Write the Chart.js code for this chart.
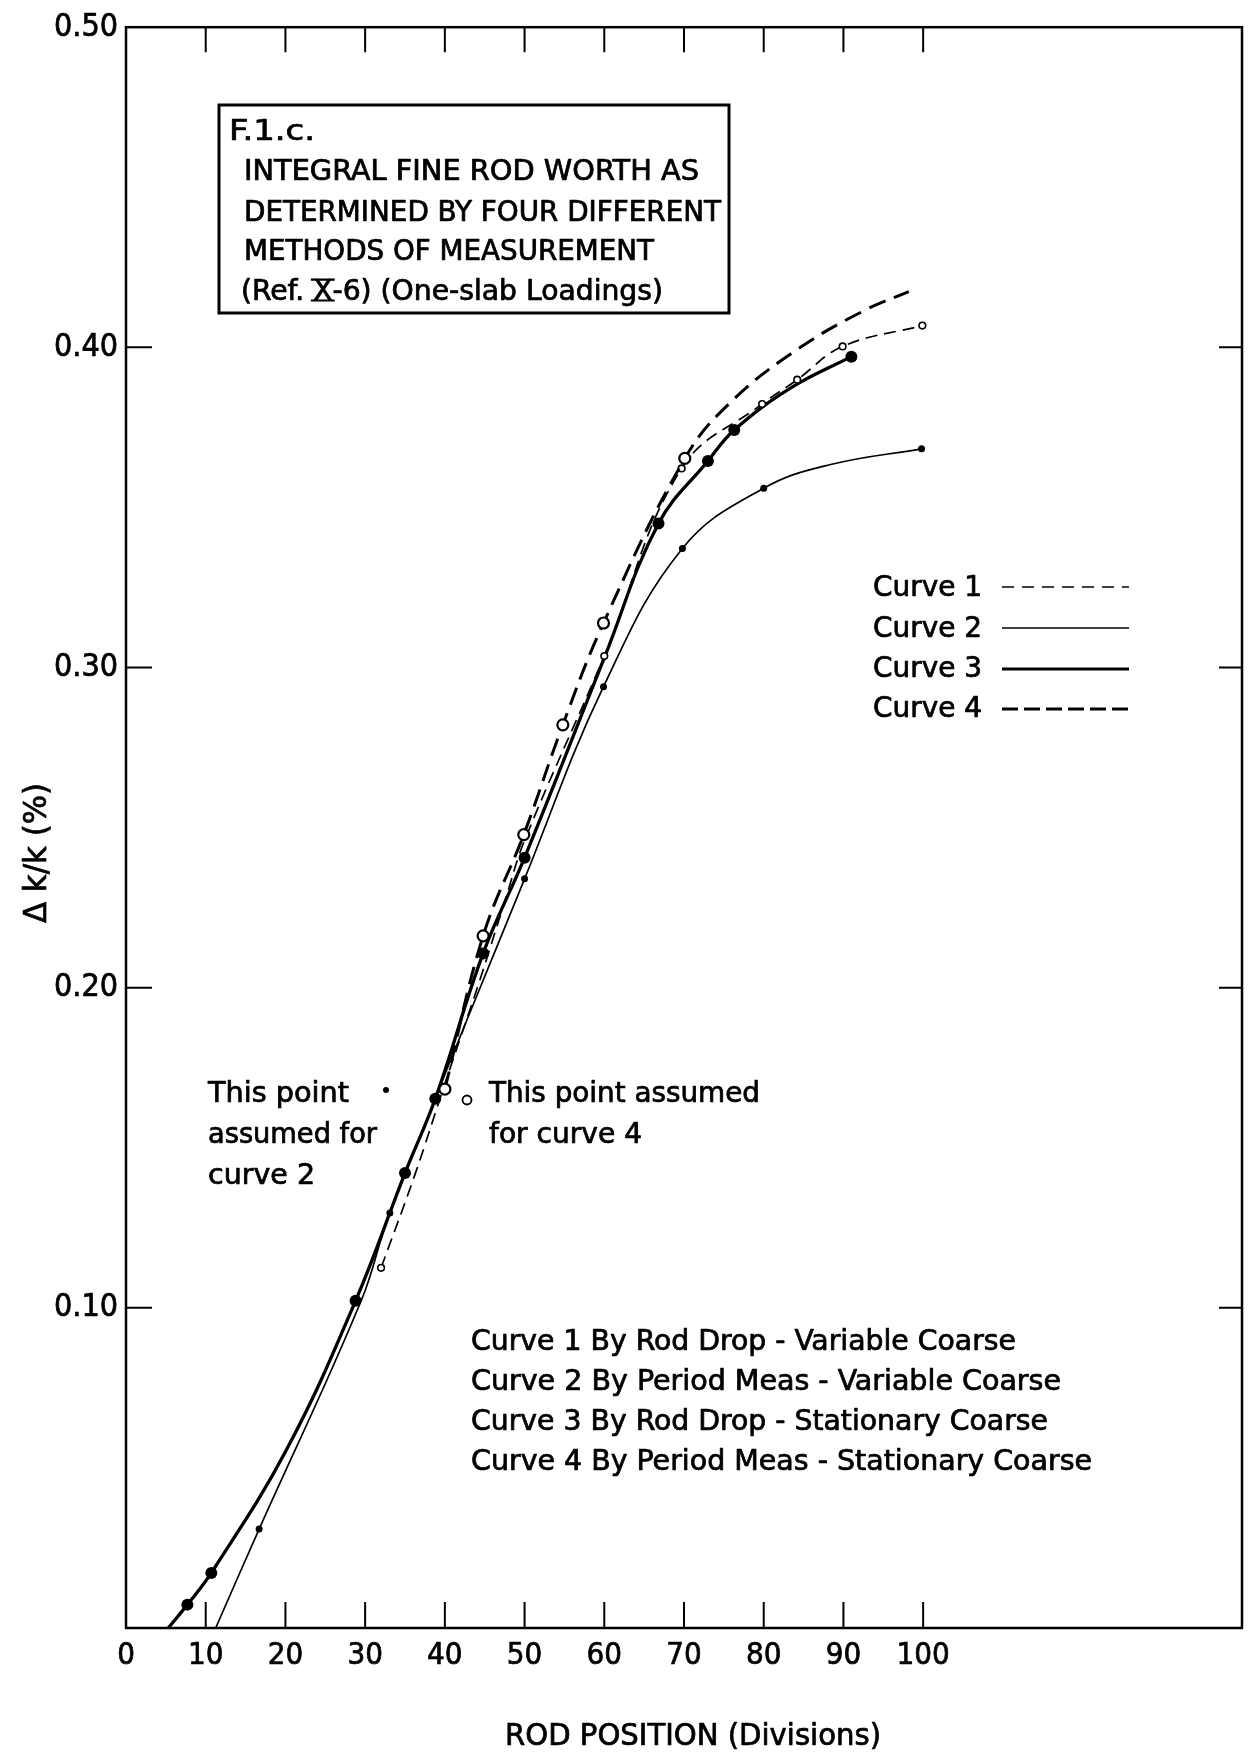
<!DOCTYPE html>
<html>
<head>
<meta charset="utf-8">
<script src="https://cdn.jsdelivr.net/npm/chart.js@4/dist/chart.umd.min.js"></script>
<style>
  html, body { margin: 0; padding: 0; background: #fff; }
  canvas { display: block; }
</style>
</head>
<body>
<canvas id="chart" width="1251" height="1753"></canvas>
<script>
// ---- Curve 1: by rod drop, variable coarse (thin dashed, small open circles)
const curve1X      = [32.0, 36.3, 40.0, 44.3, 47.6, 50.0, 60.0, 69.7, 79.8, 84.2, 89.9, 99.9];
const curve1Y      = [0.1125, 0.142, 0.170, 0.2017, 0.2276, 0.246, 0.3036, 0.3622, 0.3823, 0.3899, 0.4003, 0.4068];
const curve1Marked = [1, 0, 0, 0, 0, 0, 1, 1, 1, 1, 1, 1];

// ---- Curve 2: by period meas, variable coarse (thin solid, small dots)
const curve2X      = [11.25, 16.7, 29.5, 33.1, 50.0, 59.9, 69.8, 80.0, 88.4, 99.8];
const curve2Y      = [0.0, 0.0309, 0.1022, 0.1296, 0.2340, 0.2940, 0.3372, 0.3560, 0.3634, 0.3683];
const curve2Marked = [0, 1, 0, 1, 1, 1, 1, 1, 0, 1];

// ---- Curve 3: by rod drop, stationary coarse (heavy solid, large dots)
const curve3X      = [5.3, 7.7, 10.7, 20.1, 28.8, 35.0, 38.8, 44.8, 50.0, 60.0, 66.8, 73.0, 76.3, 83.5, 91.0];
const curve3Y      = [0.0, 0.0073, 0.0172, 0.0555, 0.1022, 0.1421, 0.1653, 0.2107, 0.2406, 0.3030, 0.3450, 0.3645, 0.3742, 0.3875, 0.3971];
const curve3Marked = [0, 1, 1, 0, 1, 1, 1, 1, 1, 0, 1, 1, 1, 0, 1];

// ---- Curve 4: by period meas, stationary coarse (heavy dashed, large open circles)
const curve4X      = [40.0, 44.8, 49.9, 54.8, 59.9, 70.1, 75.9, 84.3, 92.6, 98.2];
const curve4Y      = [0.1683, 0.2162, 0.2478, 0.2821, 0.3139, 0.3653, 0.3830, 0.3995, 0.4115, 0.4174];
const curve4Marked = [1, 1, 1, 1, 1, 1, 0, 0, 0, 0];

// ---- Axis tick labels
const xTickLabels = ['0', '10', '20', '30', '40', '50', '60', '70', '80', '90', '100'];
const yTickLabels = ['0.10', '0.20', '0.30', '0.40', '0.50'];

// ---- Texts
const boxLines = [
  'F.1.c.',
  'INTEGRAL FINE ROD WORTH AS',
  'DETERMINED BY FOUR DIFFERENT',
  'METHODS OF MEASUREMENT',
  ['(Ref. ', 'X', '-6) (One-slab Loadings)']
];
const legendNames = ['Curve 1', 'Curve 2', 'Curve 3', 'Curve 4'];
const methodLines = [
  'Curve 1 By Rod Drop - Variable Coarse',
  'Curve 2 By Period Meas - Variable Coarse',
  'Curve 3 By Rod Drop - Stationary Coarse',
  'Curve 4 By Period Meas - Stationary Coarse'
];
const noteCurve2 = ['This point', 'assumed for', 'curve 2'];
const noteCurve4 = ['This point assumed', 'for curve 4'];
const xTitle = 'ROD POSITION (Divisions)';
const yTitle = '\u0394 k/k (%)';

// Pick the first installed family from a list (falls back to sans-serif)
function pickFamily(list) {
  const c = document.createElement('canvas').getContext('2d');
  const probe = 'Curve 1 By Rod Drop 0.50 WMQ';
  for (const f of list) {
    c.font = `40px "${f}", monospace`;
    const a = c.measureText(probe).width;
    c.font = `40px "${f}", serif`;
    const b = c.measureText(probe).width;
    if (Math.abs(a - b) < 0.01) return f;
  }
  return 'sans-serif';
}
const FAMILY = pickFamily(['DejaVu Sans Condensed', 'Liberation Sans Narrow', 'DejaVu Sans', 'Liberation Sans']);
const INK = 0.7; // extra outline that thickens the strokes of the lettering

function toPoints(xs, ys) {
  return xs.map((x, i) => ({ x: x, y: ys[i] }));
}

function makeSeries(label, xs, ys, marks, st) {
  return {
    label: label,
    data: toPoints(xs, ys),
    showLine: true,
    tension: 0.4,
    borderColor: '#000',
    borderWidth: st.width,
    borderDash: st.dash,
    borderCapStyle: 'butt',
    pointRadius: marks.map(m => (m ? st.radius : 0)),
    pointHoverRadius: marks.map(m => (m ? st.radius : 0)),
    pointBackgroundColor: st.fill,
    pointBorderColor: '#000',
    pointBorderWidth: st.pointBorder,
    fill: false
  };
}

// Draw a string with its left end at (x, y) squeezed/stretched to a given width
function fitText(ctx, str, x, y, width, size) {
  ctx.save();
  ctx.font = `${size}px "${FAMILY}"`;
  ctx.textAlign = 'left';
  ctx.textBaseline = 'alphabetic';
  ctx.fillStyle = '#000';
  ctx.strokeStyle = '#000';
  ctx.lineWidth = INK;
  ctx.lineJoin = 'round';
  const w = ctx.measureText(str).width;
  ctx.translate(x, y);
  ctx.scale(width / w, 1);
  ctx.fillText(str, 0, 0);
  ctx.strokeText(str, 0, 0);
  ctx.restore();
}

// Same, for a line made of pieces where the middle piece is a barred roman numeral
function fitRomanLine(ctx, parts, x, y, width, size) {
  ctx.save();
  ctx.font = `${size}px "${FAMILY}"`;
  ctx.textAlign = 'left';
  ctx.textBaseline = 'alphabetic';
  ctx.fillStyle = '#000';
  ctx.strokeStyle = '#000';
  ctx.lineJoin = 'round';
  const widths = parts.map(p => ctx.measureText(p).width);
  const total = widths.reduce((a, b) => a + b, 0);
  ctx.translate(x, y);
  ctx.scale(width / total, 1);
  let cx = 0;
  parts.forEach((p, i) => {
    ctx.lineWidth = INK;
    ctx.fillText(p, cx, 0);
    ctx.strokeText(p, cx, 0);
    if (i === 1) {
      const cap = size * 0.73;
      ctx.lineWidth = 2.2;
      ctx.beginPath();
      ctx.moveTo(cx - 2, -cap); ctx.lineTo(cx + widths[i] + 2, -cap);
      ctx.moveTo(cx - 2, 0.5); ctx.lineTo(cx + widths[i] + 2, 0.5);
      ctx.stroke();
    }
    cx += widths[i];
  });
  ctx.restore();
}

const framePlugin = {
  id: 'frameAndNotes',
  afterDraw(chart) {
    const ctx = chart.ctx;
    const { left, right, top, bottom } = chart.chartArea;
    const xs = chart.scales.x;
    const ys = chart.scales.y;

    ctx.save();
    ctx.strokeStyle = '#000';
    ctx.lineCap = 'butt';

    // frame
    ctx.lineWidth = 2.5;
    ctx.strokeRect(left, top, right - left, bottom - top);

    // inward tick marks on all four sides
    ctx.lineWidth = 2;
    ctx.beginPath();
    xs.ticks.forEach(t => {
      const idx = Math.round(t.value / 10);
      if (idx < 1 || idx >= xTickLabels.length) return;
      const px = xs.getPixelForValue(t.value);
      ctx.moveTo(px, bottom); ctx.lineTo(px, bottom - 26);
      ctx.moveTo(px, top); ctx.lineTo(px, top + 25);
    });
    ys.ticks.forEach(t => {
      const idx = Math.round(t.value * 10);
      if (idx < 1 || idx >= yTickLabels.length) return;
      const py = ys.getPixelForValue(t.value);
      ctx.moveTo(left, py); ctx.lineTo(left + 26, py);
      ctx.moveTo(right, py); ctx.lineTo(right - 23, py);
    });
    ctx.stroke();

    // title box
    ctx.lineWidth = 3;
    ctx.strokeRect(219, 105, 510, 208);
    fitText(ctx, boxLines[0], 229, 140, 86, 29);
    fitText(ctx, boxLines[1], 244, 180, 455, 28);
    fitText(ctx, boxLines[2], 244, 221, 477, 28);
    fitText(ctx, boxLines[3], 244, 260, 410, 28);
    fitRomanLine(ctx, boxLines[4], 241, 300, 422, 28);

    // line-style key
    const keyBase = [596, 637, 677, 717];
    const keyLineY = [587, 628, 669, 709];
    const keyStyles = [
      { w: 1.6, dash: [12, 8] },
      { w: 1.6, dash: [] },
      { w: 3.2, dash: [] },
      { w: 3.2, dash: [16, 6] }
    ];
    legendNames.forEach((name, i) => {
      fitText(ctx, name, 873, keyBase[i], 109, 29);
      ctx.save();
      ctx.lineWidth = keyStyles[i].w;
      ctx.setLineDash(keyStyles[i].dash);
      ctx.beginPath();
      ctx.moveTo(1002, keyLineY[i]);
      ctx.lineTo(1129, keyLineY[i]);
      ctx.stroke();
      ctx.restore();
    });

    // method descriptions
    const methodBase = [1350, 1390, 1430, 1470];
    const methodWidth = [545, 590, 577, 621];
    methodLines.forEach((s, i) => fitText(ctx, s, 471, methodBase[i], methodWidth[i], 29));

    // notes about assumed points
    fitText(ctx, noteCurve2[0], 208, 1102, 141, 29);
    fitText(ctx, noteCurve2[1], 208, 1143, 169, 29);
    fitText(ctx, noteCurve2[2], 208, 1184, 107, 29);
    ctx.fillStyle = '#000';
    ctx.beginPath();
    ctx.arc(386, 1090, 3, 0, Math.PI * 2);
    ctx.fill();

    fitText(ctx, noteCurve4[0], 489, 1102, 271, 29);
    fitText(ctx, noteCurve4[1], 489, 1143, 153, 29);
    ctx.lineWidth = 1.8;
    ctx.beginPath();
    ctx.arc(467, 1100, 4.5, 0, Math.PI * 2);
    ctx.stroke();

    // axis titles
    fitText(ctx, xTitle, 505, 1745, 376, 31);
    ctx.save();
    ctx.translate(46, 923);
    ctx.rotate(-Math.PI / 2);
    fitText(ctx, yTitle, 0, 0, 140, 32);
    ctx.restore();

    ctx.restore();
  }
};

const ctx = document.getElementById('chart').getContext('2d');
new Chart(ctx, {
  type: 'scatter',
  data: {
    datasets: [
      makeSeries('Curve 4', curve4X, curve4Y, curve4Marked,
        { width: 3, dash: [18, 9], radius: 5.5, fill: '#fff', pointBorder: 2.2 }),
      makeSeries('Curve 1', curve1X, curve1Y, curve1Marked,
        { width: 1.7, dash: [12, 7], radius: 3.3, fill: '#fff', pointBorder: 1.6 }),
      makeSeries('Curve 3', curve3X, curve3Y, curve3Marked,
        { width: 3.3, dash: [], radius: 6, fill: '#000', pointBorder: 0 }),
      makeSeries('Curve 2', curve2X, curve2Y, curve2Marked,
        { width: 1.7, dash: [], radius: 3.5, fill: '#000', pointBorder: 0 })
    ]
  },
  options: {
    responsive: false,
    animation: false,
    devicePixelRatio: 1,
    events: [],
    layout: { padding: { top: 20, right: 4, left: 0, bottom: 0 } },
    plugins: {
      legend: { display: false },
      tooltip: { enabled: false },
      title: { display: false }
    },
    scales: {
      x: {
        type: 'linear',
        position: 'bottom',
        min: 0,
        max: 140,
        afterFit: s => { s.height = 125; },
        grid: { display: false, drawTicks: false },
        border: { display: false },
        ticks: {
          stepSize: 10,
          autoSkip: false,
          maxRotation: 0,
          padding: 9,
          color: '#000',
          textStrokeColor: '#000',
          textStrokeWidth: INK,
          font: { family: FAMILY, size: 31 },
          callback: v => xTickLabels[Math.round(v / 10)] || ''
        }
      },
      y: {
        type: 'linear',
        position: 'left',
        min: 0,
        max: 0.5,
        afterFit: s => { s.width = 126; },
        grid: { display: false, drawTicks: false },
        border: { display: false },
        ticks: {
          stepSize: 0.1,
          autoSkip: false,
          padding: 8,
          color: '#000',
          textStrokeColor: '#000',
          textStrokeWidth: INK,
          font: { family: FAMILY, size: 32 },
          callback: v => {
            const i = Math.round(v * 10);
            return i >= 1 ? yTickLabels[i - 1] : '';
          }
        }
      }
    }
  },
  plugins: [framePlugin]
});
</script>
</body>
</html>
